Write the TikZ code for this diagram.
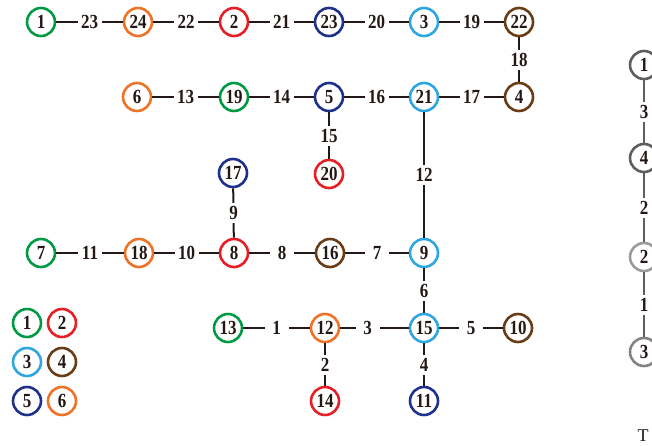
\documentclass[tikz,border=0pt]{standalone}
\usepackage{fontspec}
\setmainfont{Liberation Serif}
\newfontfamily\numfam[FakeStretch=0.85]{Liberation Serif}
\definecolor{cgreen}{HTML}{009A44}
\definecolor{cred}{HTML}{E61E25}
\definecolor{cblue}{HTML}{2EA6DF}
\definecolor{cbrown}{HTML}{6A3D17}
\definecolor{cnavy}{HTML}{1F318A}
\definecolor{corange}{HTML}{EE7326}
\definecolor{txt}{HTML}{231815}
\definecolor{gdark}{HTML}{5E5E5E}
\definecolor{glight}{HTML}{9A9A9A}
\newcommand\numfont{\numfam\fontsize{20}{20}\selectfont\bfseries}
\begin{document}
\begin{tikzpicture}[x=1pt,y=-1pt,
  v/.style={circle, draw, line width=2.6pt, minimum size=28pt, inner sep=0pt, fill=white, font=\numfont, text=txt},
  e/.style={line width=2pt, draw=txt},
  ge/.style={line width=2pt, draw=gdark},
  lab/.style={fill=white, inner sep=0pt, minimum width=24pt, minimum height=20pt, font=\numfont, text=txt}]
\useasboundingbox (0,0) rectangle (652,445);
\clip (0,0) rectangle (652,445);
% top row
\node[v,draw=cgreen] (n1) at (41,22) {1};
\node[v,draw=corange] (n24) at (138,22) {24};
\node[v,draw=cred] (n2) at (234,22) {2};
\node[v,draw=cnavy] (n23) at (329,22) {23};
\node[v,draw=cblue] (n3) at (424,22) {3};
\node[v,draw=cbrown] (n22) at (519,22) {22};
% second row
\node[v,draw=corange] (n6) at (137,97) {6};
\node[v,draw=cgreen] (n19) at (234,97) {19};
\node[v,draw=cnavy] (n5) at (329,97) {5};
\node[v,draw=cblue] (n21) at (424,97) {21};
\node[v,draw=cbrown] (n4) at (519,97) {4};
\node[v,draw=cred] (n20) at (329,174) {20};
\node[v,draw=cnavy] (n17) at (233,173) {17};
% third row
\node[v,draw=cgreen] (n7) at (41,253) {7};
\node[v,draw=corange] (n18) at (139,253) {18};
\node[v,draw=cred] (n8) at (234,253) {8};
\node[v,draw=cbrown] (n16) at (330,253) {16};
\node[v,draw=cblue] (n9) at (424,253) {9};
% bottom
\node[v,draw=cgreen] (n13) at (228,328) {13};
\node[v,draw=corange] (n12) at (325,328) {12};
\node[v,draw=cblue] (n15) at (424,328) {15};
\node[v,draw=cbrown] (n10) at (518,328) {10};
\node[v,draw=cred] (n14) at (325,401) {14};
\node[v,draw=cnavy] (n11) at (424,401) {11};
% legend
\node[v,draw=cgreen] (l1) at (27,323) {1};
\node[v,draw=cred] (l2) at (62,323) {2};
\node[v,draw=cblue] (l3) at (27,362) {3};
\node[v,draw=cbrown] (l4) at (62,362) {4};
\node[v,draw=cnavy] (l5) at (27,401) {5};
\node[v,draw=corange] (l6) at (62,401) {6};
% edges
\draw[e] (n1) -- node[lab]{23} (n24);
\draw[e] (n24) -- node[lab]{22} (n2);
\draw[e] (n2) -- node[lab]{21} (n23);
\draw[e] (n23) -- node[lab]{20} (n3);
\draw[e] (n3) -- node[lab]{19} (n22);
\draw[e] (n22) -- node[lab]{18} (n4);
\draw[e] (n6) -- node[lab]{13} (n19);
\draw[e] (n19) -- node[lab]{14} (n5);
\draw[e] (n5) -- node[lab]{16} (n21);
\draw[e] (n21) -- node[lab]{17} (n4);
\draw[e] (n5) -- node[lab]{15} (n20);
\draw[e] (n21) -- node[lab]{12} (n9);
\draw[e] (n17) -- node[lab]{9} (n8);
\draw[e] (n7) -- node[lab]{11} (n18);
\draw[e] (n18) -- node[lab]{10} (n8);
\draw[e] (n8) -- node[lab]{8} (n16);
\draw[e] (n16) -- node[lab]{7} (n9);
\draw[e] (n9) -- node[lab]{6} (n15);
\draw[e] (n13) -- node[lab]{1} (n12);
\draw[e] (n12) -- node[lab,pos=0.4]{3} (n15);
\draw[e] (n15) -- node[lab]{5} (n10);
\draw[e] (n12) -- node[lab]{2} (n14);
\draw[e] (n15) -- node[lab]{4} (n11);
% cut-off neighbouring figure
\node[v,draw=gdark] (g1) at (644,65) {1};
\node[v,draw=gdark] (g4) at (644,158) {4};
\node[v,draw=glight] (g2) at (644,257) {2};
\node[v,draw=glight!85!black] (g3) at (644,352) {3};
\draw[ge] (g1) -- node[lab]{3} (g4);
\draw[ge] (g4) -- node[lab]{2} (g2);
\draw[ge] (g2) -- node[lab]{1} (g3);
\node[font=\fontsize{18}{18}\selectfont, text=txt, anchor=base] (tt) at (643,441) {T};
\end{tikzpicture}
\end{document}
